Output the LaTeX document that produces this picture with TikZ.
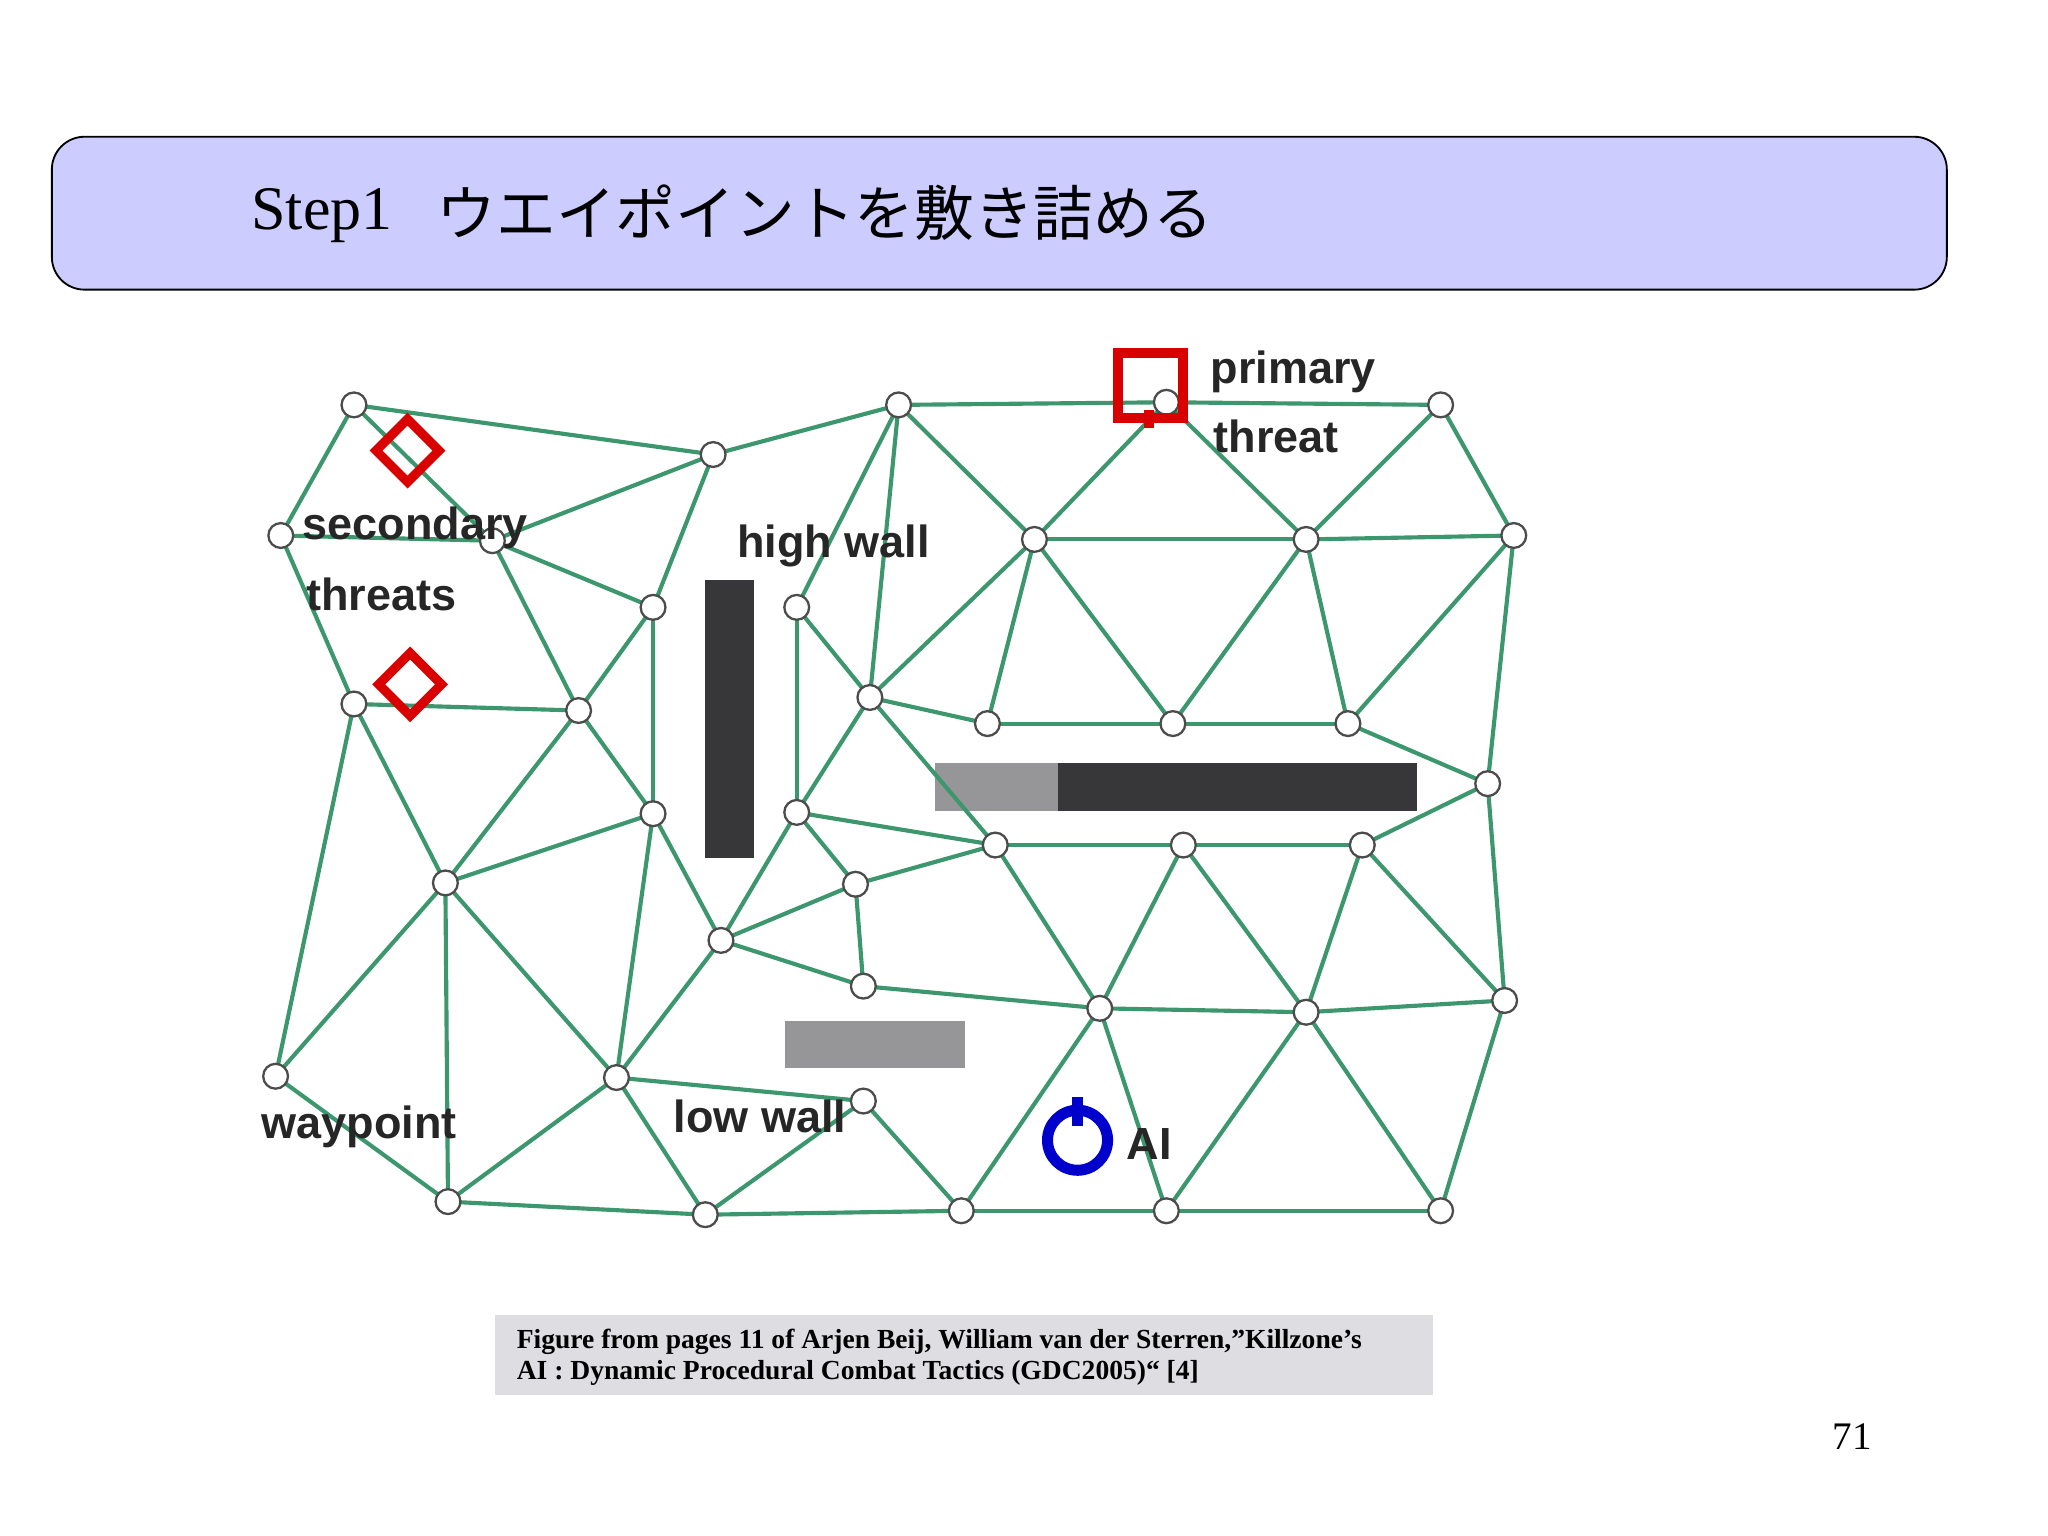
\documentclass[tikz,border=0pt]{standalone}
\usepackage{fontspec}
\setmainfont{Liberation Serif}
\setsansfont{Liberation Sans}
\newfontfamily\cjk{Noto Sans CJK JP}
\definecolor{edgec}{RGB}{60,150,110}
\definecolor{titlec}{RGB}{204,204,255}
\definecolor{capc}{RGB}{222,222,226}
\definecolor{wallc}{RGB}{55,55,58}
\definecolor{loww}{RGB}{150,150,152}
\begin{document}
\begin{tikzpicture}[x=0.01cm,y=-0.01cm,
  wp/.style={circle,draw=black!70,fill=white,inner sep=0pt,minimum size=0.19cm,line width=0.5pt},
  lab/.style={font=\sffamily\bfseries\fontsize{9.8}{12}\selectfont,text=black!85,inner sep=0pt},
  ed/.style={draw=edgec,line width=0.9pt}]
\useasboundingbox (0,0) rectangle (1568,1176);
\node[draw=black,fill=titlec,rounded corners=0.25cm,minimum width=14.5cm,minimum height=1.17cm,anchor=north west] (title) at (39,104) {};
\node[anchor=west,font=\fontsize{13.5}{16}\selectfont] (t1) at (180,165) {Step1};
\node[anchor=west,font=\cjk\fontsize{13}{16}\selectfont] (t2) at (322,163) {ウエイポイントを敷き詰める};
% walls
\fill[wallc] (540,444) rectangle (577,657);
\fill[loww] (716,584) rectangle (810,621);
\fill[wallc] (810,584) rectangle (1085,621);
\fill[loww] (601,782) rectangle (739,818);
% nodes
\foreach \n/\x/\y in {1/271/310,2/546/348,3/688/310,4/893/308,5/1103/310,6/215/410,7/377/414,8/500/465,9/610/465,10/792/413,11/1000/413,12/1159/410,13/271/539,14/443/544,15/666/534,16/756/554,17/898/554,18/1032/554,19/1139/600,20/500/623,21/610/622,22/762/647,23/906/647,24/1043/647,25/341/676,26/655/677,27/552/720,28/661/755,29/842/772,30/1000/775,31/1152/766,32/211/824,33/472/825,34/661/843,35/343/920,36/540/930,37/736/927,38/893/927,39/1103/927}
  \coordinate (c\n) at (\x,\y);
\foreach \a/\b in {1/2,1/6,1/7,2/3,2/7,2/8,3/4,3/9,3/15,3/10,4/10,4/5,4/11,5/11,5/12,6/7,6/13,7/8,7/14,8/14,8/20,13/14,13/25,13/32,14/20,14/25,20/25,20/27,25/32,25/33,25/35,32/35,33/35,33/36,33/27,33/34,33/20,27/21,27/26,27/28,21/9,21/15,21/26,21/22,9/15,15/10,15/16,15/22,10/11,10/16,10/17,11/17,11/18,11/12,12/18,12/19,16/17,17/18,18/19,19/24,19/31,22/23,23/24,22/26,22/29,23/29,23/30,24/30,24/31,26/28,28/29,29/30,30/31,29/37,29/38,30/38,30/39,31/39,34/37,34/36,35/36,36/37,37/38,38/39}
  \draw[ed] (c\a) -- (c\b);
\foreach \n in {1,...,39} \node[wp] (n\n) at (c\n) {};
% threats
\draw[red!85!black,line width=2pt,rotate around={45:(312,345)}] (295,328) rectangle (329,362);
\draw[red!85!black,line width=2pt,rotate around={45:(314,524)}] (297,507) rectangle (331,541);
\draw[red!85!black,line width=2.2pt] (856,270) rectangle (906,320);
\draw[red!85!black,line width=2.2pt] (880,314) -- (880,328);
% AI
\draw[blue!80!black,line width=2.4pt] (825,873) circle (23);
\draw[blue!80!black,line width=2.4pt] (825,840) -- (825,862);
% labels
\node[lab] (lp) at (990,285) {primary};
\node[lab] (lt) at (977,334) {threat};
\node[lab] (ls) at (318,404) {secondary};
\node[lab] (lst) at (292,455) {threats};
\node[lab] (lh) at (638,418) {high wall};
\node[lab] (ll) at (582,855) {low wall};
\node[lab] (lw) at (275,863) {waypoint};
\node[lab] (lai) at (880,876) {AI};
% caption
\fill[capc] (379,1007) rectangle (1097,1068);
\node[anchor=north west,align=left,font=\bfseries\fontsize{6}{6.8}\selectfont,inner sep=0pt] (cap) at (395,1017) {Figure from pages 11 of Arjen Beij, William van der Sterren,\symbol{34}Killzone\symbol{39}s\\AI : Dynamic Procedural Combat Tactics (GDC2005)“ [4]};
\node[font=\fontsize{8.5}{10}\selectfont] (pg) at (1418,1100) {71};
\end{tikzpicture}
\end{document}
